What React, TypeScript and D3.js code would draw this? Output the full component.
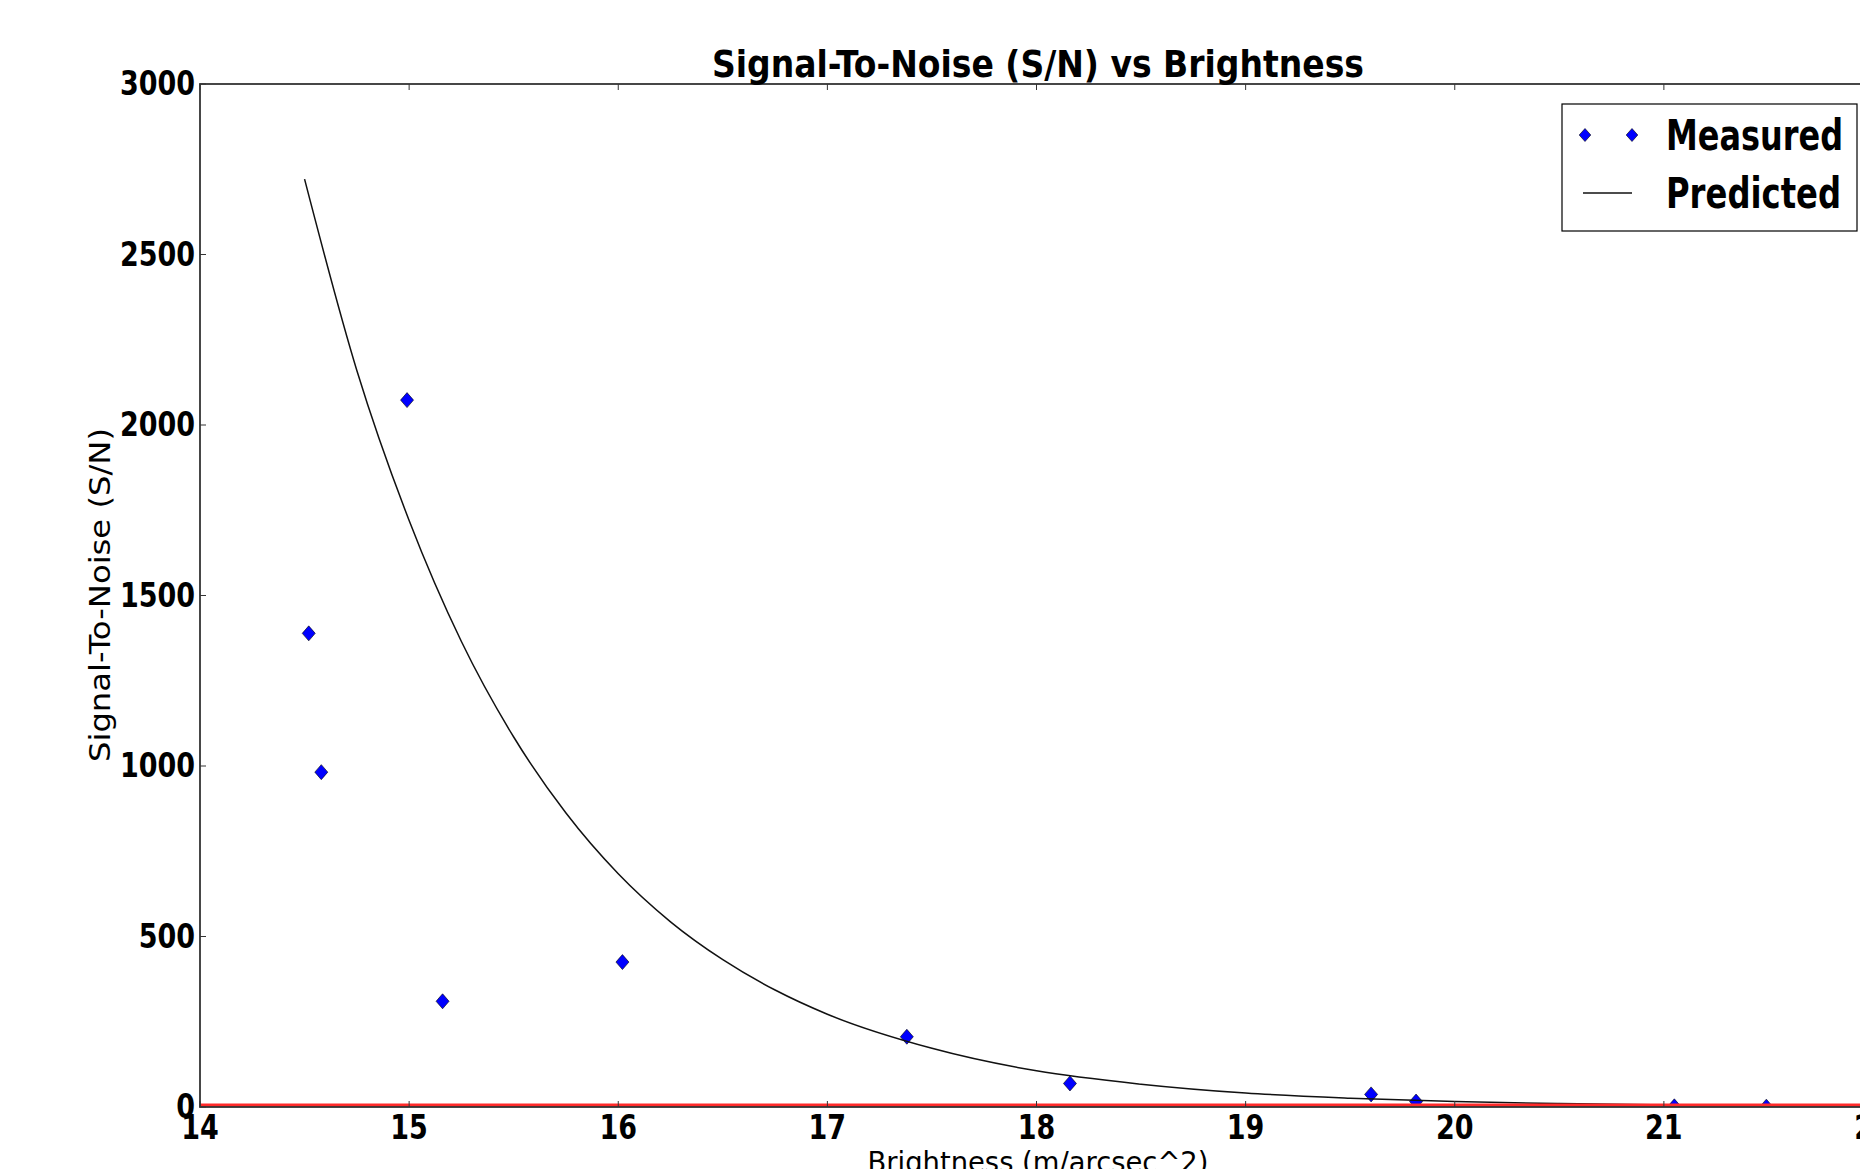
import React, { useEffect, useRef } from 'react'
import * as d3 from 'd3'

// Measured S/N points (brightness in m/arcsec^2)
const measuredMag = [14.52, 14.58, 14.99, 15.16, 16.02, 17.38, 18.16, 19.6, 19.815, 21.05, 21.49]
const measuredSN = [1389, 982, 2073, 310, 425, 206, 69, 37, 16, 2, 1]

// Predicted curve
const predictedMag = [14.5, 14.75, 15, 15.25, 15.5, 15.75, 16, 16.25, 16.5, 16.75, 17, 17.5, 18, 18.5, 19, 19.5, 20, 20.5, 21, 21.5, 22]
const predictedSN = [2721, 2160, 1720, 1365, 1085, 862, 684, 543, 432, 343, 272, 172, 106, 67, 41, 26, 16, 10, 6.5, 4, 2.5]

const xTicks = [14, 15, 16, 17, 18, 19, 20, 21, 22]
const yTicks = [0, 500, 1000, 1500, 2000, 2500, 3000]

const BOLD = '"DejaVu Sans Condensed", "DejaVu Sans", sans-serif'
const REG = '"DejaVu Sans", sans-serif'

const App = () => {
  const ref = useRef<HTMLDivElement>(null)

  useEffect(() => {
    const width = 1860
    const height = 1169
    const margins = { top: 84, left: 200, right: 1873, bottom: 1107 }

    d3.select(ref.current).selectAll('*').remove()

    const svg = d3.select(ref.current)
      .append('svg')
      .attr('width', width)
      .attr('height', height)
      .style('position', 'absolute')
      .style('left', '0px')
      .style('top', '0px')
      .style('background', '#fff')

    const xScale = d3.scaleLinear().domain([14, 22]).range([margins.left, margins.right])
    const yScale = d3.scaleLinear().domain([0, 3000]).range([margins.bottom, margins.top])

    svg.append('defs').append('clipPath')
      .attr('id', 'plot-clip')
      .append('rect')
      .attr('x', margins.left)
      .attr('y', margins.top)
      .attr('width', margins.right - margins.left)
      .attr('height', margins.bottom - margins.top)

    const plot = svg.append('g').attr('clip-path', 'url(#plot-clip)')

    const diamond = 'M0,-7.5L6.5,0L0,7.5L-6.5,0Z'

    // measured points
    plot.selectAll('path.pt')
      .data(measuredMag.map((m, i) => [m, measuredSN[i]]))
      .join('path')
      .attr('class', 'pt')
      .attr('d', diamond)
      .attr('transform', d => `translate(${xScale(d[0])},${yScale(d[1])})`)
      .attr('fill', '#0000ff')
      .attr('stroke', '#000')
      .attr('stroke-width', 0.6)

    // predicted line
    const line = d3.line<number[]>()
      .x(d => xScale(d[0]))
      .y(d => yScale(d[1]))
      .curve(d3.curveMonotoneX)

    plot.append('path')
      .datum(predictedMag.map((m, i) => [m, predictedSN[i]]))
      .attr('d', line)
      .attr('fill', 'none')
      .attr('stroke', '#111')
      .attr('stroke-width', 1.5)

    // red zero line
    plot.append('line')
      .attr('x1', xScale(14))
      .attr('x2', xScale(22))
      .attr('y1', yScale(0))
      .attr('y2', yScale(0))
      .attr('stroke', '#ff2a2a')
      .attr('stroke-width', 7)

    // ticks (inward, on all sides)
    const tickG = svg.append('g').attr('stroke', '#333').attr('stroke-width', 1)
    xTicks.forEach(t => {
      tickG.append('line').attr('x1', xScale(t)).attr('x2', xScale(t))
        .attr('y1', yScale(0)).attr('y2', yScale(0) - 6)
      tickG.append('line').attr('x1', xScale(t)).attr('x2', xScale(t))
        .attr('y1', yScale(3000)).attr('y2', yScale(3000) + 6)
    })
    yTicks.forEach(t => {
      tickG.append('line').attr('x1', xScale(14)).attr('x2', xScale(14) + 6)
        .attr('y1', yScale(t)).attr('y2', yScale(t))
      tickG.append('line').attr('x1', xScale(22)).attr('x2', xScale(22) - 6)
        .attr('y1', yScale(t)).attr('y2', yScale(t))
    })

    // frame
    svg.append('rect')
      .attr('x', margins.left)
      .attr('y', margins.top)
      .attr('width', margins.right - margins.left)
      .attr('height', margins.bottom - margins.top)
      .attr('fill', 'none')
      .attr('stroke', '#333')
      .attr('stroke-width', 1.8)

    // tick labels (slightly tall, like the original)
    svg.append('g').selectAll('text')
      .data(xTicks)
      .join('text')
      .attr('transform', d => `translate(${xScale(d)},1139) scale(1,1.12)`)
      .attr('text-anchor', 'middle')
      .style('font-family', BOLD)
      .style('font-weight', 'bold')
      .style('font-size', '30px')
      .text(d => d)

    svg.append('g').selectAll('text')
      .data(yTicks)
      .join('text')
      .attr('transform', d => `translate(195,${yScale(d) + 11}) scale(1,1.12)`)
      .attr('text-anchor', 'end')
      .style('font-family', BOLD)
      .style('font-weight', 'bold')
      .style('font-size', '30px')
      .text(d => d)

    // title
    svg.append('text')
      .attr('x', 1038)
      .attr('y', 77)
      .attr('text-anchor', 'middle')
      .attr('textLength', 652)
      .attr('lengthAdjust', 'spacingAndGlyphs')
      .style('font-family', BOLD)
      .style('font-weight', 'bold')
      .style('font-size', '38px')
      .text('Signal-To-Noise (S/N) vs Brightness')

    // axis labels
    svg.append('text')
      .attr('x', 1038)
      .attr('y', 1172)
      .attr('text-anchor', 'middle')
      .attr('textLength', 341)
      .attr('lengthAdjust', 'spacingAndGlyphs')
      .style('font-family', REG)
      .style('font-size', '29px')
      .text('Brightness (m/arcsec^2)')

    svg.append('text')
      .attr('transform', 'translate(110, 595) rotate(-90)')
      .attr('text-anchor', 'middle')
      .attr('textLength', 334)
      .attr('lengthAdjust', 'spacingAndGlyphs')
      .style('font-family', REG)
      .style('font-size', '29px')
      .text('Signal-To-Noise (S/N)')

    // legend
    const legend = svg.append('g')
    legend.append('rect')
      .attr('x', 1562)
      .attr('y', 104)
      .attr('width', 295)
      .attr('height', 127)
      .attr('fill', '#fff')
      .attr('stroke', '#000')
      .attr('stroke-width', 1.2)

    ;[1585, 1632].forEach(x => {
      legend.append('path')
        .attr('d', 'M0,-6.5L5.8,0L0,6.5L-5.8,0Z')
        .attr('transform', `translate(${x},135)`)
        .attr('fill', '#0000ff')
        .attr('stroke', '#000')
        .attr('stroke-width', 0.6)
    })
    legend.append('line')
      .attr('x1', 1583).attr('x2', 1632)
      .attr('y1', 193).attr('y2', 193)
      .attr('stroke', '#111')
      .attr('stroke-width', 1.5)

    legend.append('text')
      .attr('transform', 'translate(1666,150) scale(1,1.1)')
      .attr('textLength', 177)
      .attr('lengthAdjust', 'spacingAndGlyphs')
      .style('font-family', BOLD)
      .style('font-weight', 'bold')
      .style('font-size', '38px')
      .text('Measured')
    legend.append('text')
      .attr('transform', 'translate(1666,208) scale(1,1.1)')
      .attr('textLength', 175)
      .attr('lengthAdjust', 'spacingAndGlyphs')
      .style('font-family', BOLD)
      .style('font-weight', 'bold')
      .style('font-size', '38px')
      .text('Predicted')
  }, [])

  return <div ref={ref}></div>
}

export default App
